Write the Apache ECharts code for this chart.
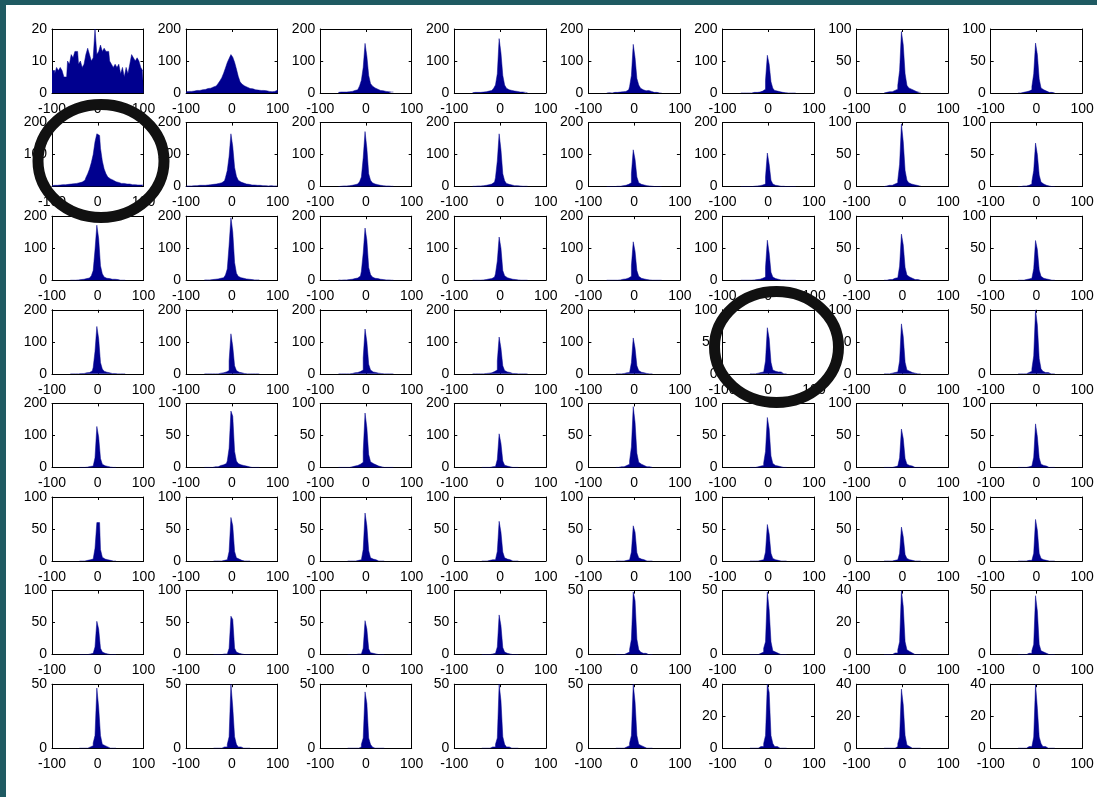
<!DOCTYPE html>
<html>
<head>
<meta charset="utf-8">
<script src="https://cdn.jsdelivr.net/npm/echarts@6/dist/echarts.min.js"></script>
<style>
  html, body { margin: 0; padding: 0; background: #fff; }
  #chart { width: 1097px; height: 797px; }
</style>
</head>
<body>
<div id="chart"></div>
<script>
// histogram bin width (x units); each count list is centred on x = 0
const binWidth = 4;
const xTicks = [-100, 0, 100];

// y-axis top value and tick step per panel (row by row)
const yMax = [
  20, 200, 200, 200, 200, 200, 100, 100,
  200, 200, 200, 200, 200, 200, 100, 100,
  200, 200, 200, 200, 200, 200, 100, 100,
  200, 200, 200, 200, 200, 100, 100, 50,
  200, 100, 100, 200, 100, 100, 100, 100,
  100, 100, 100, 100, 100, 100, 100, 100,
  100, 100, 100, 100, 50, 50, 40, 50,
  50, 50, 50, 50, 50, 40, 40, 40
];
const yStep = [
  10, 100, 100, 100, 100, 100, 50, 50,
  100, 100, 100, 100, 100, 100, 50, 50,
  100, 100, 100, 100, 100, 100, 50, 50,
  100, 100, 100, 100, 100, 50, 50, 50,
  100, 50, 50, 100, 50, 50, 50, 50,
  50, 50, 50, 50, 50, 50, 50, 50,
  50, 50, 50, 50, 50, 50, 20, 50,
  50, 50, 50, 50, 50, 20, 20, 20
];

// bin counts, one list per panel
const row1 = [
  [7,7,6,8,7,8, 7,5,5,10,9, 12,11,13,13,9, 10,8,9,12,14, 12,10,11,20, 12,13,15,13,14, 13,13,10,9,8, 9,8,9,6,8, 5,8,6,9,12, 11,10,11,10,8,7],
  [4,5,6,5,6,7,8,8,9,10, 11,12,14,15,17,19,22,26,30,38, 48,62,78,95,108,120,112,96,75,52, 35,28,22,18,16,14,13,12,10,9, 9,8,8,6,7,5,6,4,5,4, 9],
  [2,3,2,3,3,4,4,5,6,8,10,14,22,40,80, 155, 115,55,30,22,16,12,10,8,7,6,5,4,4,3,3],
  [1,2,1,2,2,3,3,4,5,6,8,10,15,25,60, 170, 125,55,25,15,10,8,12,6,5,4,3,3,2,2,1],
  [0,1,0,0,2,0,2,3,2,4,5,7,10,20,55, 152, 110,45,25,15,10,7,5,8,5,3,2,2,1,0,0],
  [0,0,0,0,0,1,0,2,0,2,3,4,6,12,40, 118, 90,35,15,8,6,4,3,2,1,1,0,0,0,0,0],
  [0,1,1,2,2,3,4,6,12,35, 96, 75,30,12,8,6,4,3,2,1,1],
  [0,0,1,1,2,2,3,5,10,30, 78, 60,22,8,5,3,2,1,1,0,0]
];
const row2 = [
  [3,4,3,4,5,5,6,6,7,7, 8,8,9,10,11,12,14,16,20,28, 40,55,75,100,140,165,160,120,80,55, 40,30,24,20,17,15,13,12,10,10, 9,8,8,7,6,6,6,5,5,4, 5],
  [2,2,3,2,3,3,3,4,4,4, 4,5,5,6,6,7,8,9,10,12, 14,18,28,50,95,165,125,60,32,20, 14,11,9,8,7,6,5,5,4,4, 4,3,3,3,3,2,3,2,2,2, 2],
  [0,1,1,2,2,2,3,4,5,6,8,10,15,30,90, 172, 120,40,20,12,8,6,5,4,3,2,2,2,1,1,1],
  [1,1,1,2,2,2,3,4,5,6,8,10,14,28,80, 165, 115,40,18,10,7,5,4,3,3,2,2,1,1,1,1],
  [0,0,0,0,0,0,1,1,2,3,4,5,7,12,40, 115, 85,30,12,7,5,4,3,2,1,1,0,0,0,0,0],
  [0,0,0,0,0,0,0,1,1,2,3,4,5,8,30, 105, 70,20,8,4,3,2,1,1,0,0,0,0,0,0,0],
  [0,1,1,2,2,3,4,6,10,35, 98, 70,25,10,6,4,3,2,2,1,1],
  [0,0,0,1,1,2,2,4,8,25, 68, 50,18,7,4,2,1,1,0,0,0]
];
const row3 = [
  [0,0,0,0,1,1,2,3,4,5,7,9,14,30,95, 172, 130,45,20,10,6,5,4,3,3,2,2,0,0,0,0],
  [1,1,1,1,2,2,3,4,5,6,8,11,16,35,110, 195, 150,55,22,12,8,6,5,4,3,3,2,1,1,1,1],
  [1,0,1,1,1,2,2,3,4,5,7,9,13,28,85, 163, 125,40,18,10,6,5,4,3,2,2,1,1,1,0,0],
  [0,0,0,0,0,1,1,2,3,4,5,7,10,20,60, 135, 100,30,14,8,5,4,3,2,1,1,0,0,0,0,0],
  [0,0,0,0,0,0,0,1,2,3,4,5,7,12,45, 120, 90,30,12,6,4,3,2,1,0,0,0,0,0,0,0],
  [0,0,0,0,0,0,0,1,1,2,3,4,6,10,40, 125, 85,25,10,5,3,2,1,1,0,0,0,0,0,0,0],
  [0,0,0,1,1,2,3,4,7,22, 72, 55,20,8,5,3,2,1,1,0,0],
  [0,0,0,0,1,1,2,3,6,18, 62, 48,16,6,3,2,1,1,0,0,0]
];
const row4 = [
  [0,0,0,0,0,0,1,1,2,3,4,6,9,20,70, 148, 110,35,15,8,5,3,2,1,1,0,0,0,0,0,0],
  [0,0,0,0,0,0,0,0,1,2,3,4,6,10,40, 125, 85,25,10,5,3,2,1,0,0,0,0,0,0,0,0],
  [0,0,0,0,0,0,0,1,2,3,4,5,7,12,50, 140, 100,30,12,6,4,3,2,1,0,0,0,0,0,0,0],
  [0,0,0,0,0,0,0,1,1,2,3,5,7,12,40, 115, 80,25,10,6,4,2,1,1,0,0,0,0,0,0,0],
  [0,0,0,0,1,2,3,4,8,35, 112, 80,25,10,5,3,2,1,0,0,0],
  [0,0,0,0,1,1,2,3,6,20, 72, 55,18,6,4,3,2,3,0,0,0],
  [0,0,0,0,1,1,2,3,6,20, 78, 58,18,6,4,2,1,1,0,0,0],
  [0,0,0,0,0,1,1,2,4,14, 50, 38,12,4,2,1,1,0,0,0,0]
];
const row5 = [
  [0,0,0,0,1,2,3,4,8,30, 128, 95,28,10,5,3,2,1,0,0,0],
  [0,0,0,0,0,0,1,1,2,3,4,5,6,10,30, 88, 80,25,10,6,4,3,2,2,1,1,0,0,0,0,0],
  [0,0,0,0,0,0,0,1,1,2,3,4,5,8,25, 85, 62,20,9,6,4,3,2,1,1,0,0,0,0,0,0],
  [0,0,0,0,0,1,2,3,6,25, 105, 75,20,7,4,2,1,0,0,0,0],
  [0,0,0,1,1,2,3,5,10,32, 95, 70,22,8,5,3,2,1,1,0,0],
  [0,0,0,0,1,1,2,3,7,25, 78, 60,18,6,3,2,1,1,0,0,0],
  [0,0,0,0,0,1,1,2,5,15, 60, 45,14,5,3,2,1,0,0,0,0],
  [0,0,0,0,0,1,1,2,5,16, 68, 48,15,5,3,2,1,0,0,0,0]
];
const row6 = [
  [0,0,0,0,1,1,2,3,6,20, 60, 60,18,6,3,2,1,1,0,0,0],
  [0,0,0,0,0,1,1,2,5,15, 68, 55,15,5,3,1,1,0,0,0,0],
  [0,0,0,0,0,1,1,2,5,18, 75, 55,16,5,3,2,1,0,0,0,0],
  [0,0,0,0,1,1,2,2,5,15, 62, 45,14,5,3,2,1,0,0,0,0],
  [0,0,0,0,0,1,1,2,4,14, 55, 45,13,5,3,2,1,0,0,0,0],
  [0,0,0,0,0,0,1,2,4,14, 57, 42,12,4,2,1,1,0,0,0,0],
  [0,0,0,0,0,0,1,2,4,12, 53, 38,10,4,2,1,0,0,0,0,0],
  [0,0,0,0,0,0,1,1,3,12, 65, 48,12,4,2,1,0,0,0,0,0]
];
const row7 = [
  [0,0,0,0,0,0,1,2,4,12, 52, 40,10,4,2,1,0,0,0,0,0],
  [0,0,0,0,0,0,1,1,3,10, 60, 55,10,4,2,1,0,0,0,0,0],
  [0,0,0,0,0,0,1,1,3,10, 53, 40,9,3,2,1,0,0,0,0,0],
  [0,0,0,0,0,0,1,2,4,12, 62, 45,11,4,2,1,0,0,0,0,0],
  [0,0,0,0,0,1,1,2,4,12, 49, 42,12,4,2,1,1,0,0,0,0],
  [0,0,0,0,0,0,1,2,5,10, 49, 35,10,3,2,1,1,0,0,0,0],
  [0,0,0,0,0,0,1,1,3,8, 40, 30,8,3,2,1,0,0,0,0,0],
  [0,0,0,0,0,0,1,1,3,8, 46, 34,8,3,2,1,1,0,0,0,0]
];
const row8 = [
  [0,0,0,0,0,0,1,2,4,10, 47, 32,10,3,2,1,0,0,0,0,0],
  [0,0,0,0,0,0,1,1,3,9, 50, 32,9,3,1,1,0,0,0,0,0],
  [0,0,0,0,0,0,0,1,3,8, 44, 35,8,3,1,0,0,0,0,0,0],
  [0,0,0,0,0,0,1,1,3,8, 50, 37,9,3,1,1,0,0,0,0,0],
  [0,0,0,0,0,0,1,2,4,10, 50, 36,10,3,2,1,1,0,0,0,0],
  [0,0,0,0,0,0,1,1,3,8, 40, 35,8,3,1,1,0,0,0,0,0],
  [0,0,0,0,0,0,0,1,3,7, 37, 27,8,2,1,0,0,0,0,0,0],
  [0,0,0,0,0,0,1,1,2,7, 40, 25,7,3,1,1,0,0,0,0,0]
];
const panels = [].concat(row1, row2, row3, row4, row5, row6, row7, row8);

let myChart = echarts.init(document.getElementById('chart'), null, { renderer: 'canvas' });

const barColor = '#00008f';
const labelFont = { color: '#000', fontSize: 14, fontFamily: 'Liberation Sans, Arial, sans-serif' };
const axisLineStyle = { show: true, onZero: false, lineStyle: { color: '#000', width: 1 } };
const tickStyle = { show: true, inside: true, length: 3, lineStyle: { color: '#000', width: 1 } };

let grids = [], xAxes = [], yAxes = [], series = [];

panels.forEach((counts, i) => {
  let r = Math.floor(i / 8), c = i % 8;
  grids.push({ left: 52 + c * 134.1, top: 29 + r * 93.6, width: 91.5, height: 64 });

  ['bottom', 'top'].forEach(pos => {
    xAxes.push({
      type: 'value', gridIndex: i, position: pos,
      min: xTicks[0], max: xTicks[2], interval: xTicks[1] - xTicks[0],
      axisLine: axisLineStyle, axisTick: tickStyle,
      axisLabel: Object.assign({ show: pos === 'bottom', margin: 9, showMinLabel: true, showMaxLabel: true }, labelFont),
      splitLine: { show: false }
    });
  });
  ['left', 'right'].forEach(pos => {
    yAxes.push({
      type: 'value', gridIndex: i, position: pos,
      min: 0, max: yMax[i], interval: yStep[i],
      axisLine: axisLineStyle, axisTick: tickStyle,
      axisLabel: Object.assign({ show: pos === 'left', margin: 5, showMinLabel: true, showMaxLabel: true }, labelFont),
      splitLine: { show: false }
    });
  });

  // one point per bin centre; the step line turns at the bin edges
  let mid = (counts.length - 1) / 2;
  let data = counts.map((v, k) => [(k - mid) * binWidth, v]);

  series.push({
    type: 'line',
    xAxisIndex: 2 * i,
    yAxisIndex: 2 * i,
    step: 'middle',
    showSymbol: false,
    symbol: 'none',
    silent: true,
    clip: true,
    lineStyle: { color: barColor, width: 0.5 },
    areaStyle: { color: barColor, opacity: 1, origin: 'start' },
    data: data
  });
});

let options = {
  animation: false,
  backgroundColor: '#fff',
  grid: grids,
  xAxis: xAxes,
  yAxis: yAxes,
  series: series,
  graphic: [
    { type: 'rect', z: 100, shape: { x: 0, y: 0, width: 1097, height: 5 }, style: { fill: '#1f5a62' } },
    { type: 'rect', z: 100, shape: { x: 0, y: 0, width: 6, height: 797 }, style: { fill: '#1f5a62' } },
    { type: 'ellipse', z: 100, shape: { cx: 101, cy: 161, rx: 63, ry: 56.5 }, style: { fill: 'none', stroke: '#111', lineWidth: 11 } },
    { type: 'ellipse', z: 100, shape: { cx: 776.5, cy: 347, rx: 62, ry: 55.5 }, style: { fill: 'none', stroke: '#111', lineWidth: 11 } }
  ]
};
myChart.setOption(options);
</script>
</body>
</html>
